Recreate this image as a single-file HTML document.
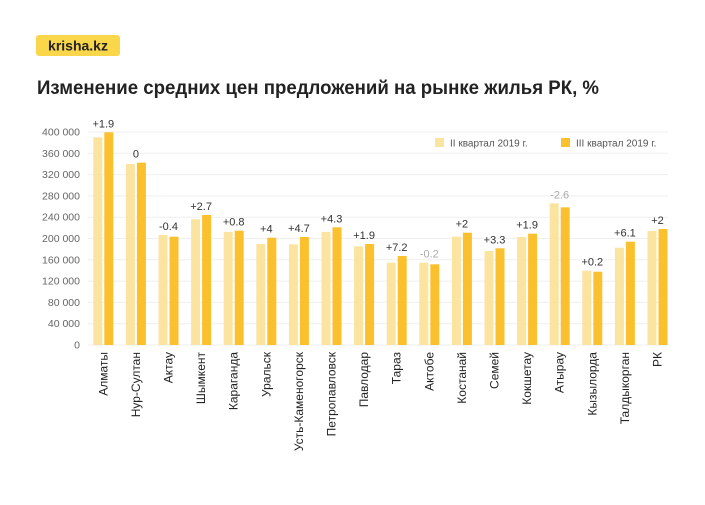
<!DOCTYPE html>
<html><head><meta charset="utf-8"><style>
body{margin:0;background:#fff;}
svg{display:block;font-family:"Liberation Sans","DejaVu Sans",sans-serif;}
</style></head><body>
<svg width="705" height="505" xmlns="http://www.w3.org/2000/svg">
<rect x="36" y="35" width="84" height="21" rx="3" fill="#f9d64a"/>
<text x="78" y="50.5" text-anchor="middle" font-size="14" font-weight="bold" fill="#222">krisha.kz</text>
<text x="37" y="94" font-size="19" font-weight="bold" fill="#222" textLength="562" lengthAdjust="spacingAndGlyphs">Изменение средних цен предложений на рынке жилья РК, %</text>
<g id="grid" stroke="#efefef" stroke-width="1"></g>
<g id="yl" font-size="10.5" fill="#666" text-anchor="end"></g>
<rect x="435" y="138" width="9" height="9" fill="#fbe3a0"/>
<text x="450" y="146.5" font-size="10" fill="#555">II квартал 2019 г.</text>
<rect x="561" y="138" width="9" height="9" fill="#fbc02d"/>
<text x="576" y="146.5" font-size="10" fill="#555">III квартал 2019 г.</text>
<g id="bars"></g>
</svg>
<script>
var NS="http://www.w3.org/2000/svg";
function el(t,a,p,txt){var e=document.createElementNS(NS,t);for(var k in a)e.setAttribute(k,a[k]);if(txt!=null)e.textContent=txt;document.getElementById(p).appendChild(e);return e;}
for(var i=0;i<=10;i++){var y=345-i*21.3;el('line',{x1:88,x2:668,y1:y,y2:y},'grid');el('text',{x:80,y:y+3.5},'yl',i==0?'0':(i*40)+' 000');}
var d=[["Алматы",137.3,132.3,"+1.9",0],["Нур-Султан",164,162.7,"0",0],["Актау",235,236.7,"-0.4",0],["Шымкент",219.3,215,"+2.7",0],["Караганда",232,230.7,"+0.8",0],["Уральск",244,237.7,"+4",0],["Усть-Каменогорск",244.3,237,"+4.7",0],["Петропавловск",232,227.3,"+4.3",0],["Павлодар",246.3,244,"+1.9",0],["Тараз",262.7,256,"+7.2",0],["Актобе",262.7,264.3,"-0.2",1],["Костанай",236.7,232.7,"+2",0],["Семей",251,248.3,"+3.3",0],["Кокшетау",237,233.7,"+1.9",0],["Атырау",203.3,207.3,"-2.6",1],["Кызылорда",270.7,271.7,"+0.2",0],["Талдыкорган",247.7,241.7,"+6.1",0],["РК",231,229,"+2",0]];
d.forEach(function(r,i){var x=93.3+i*32.6;var t1=r[1],t2=r[2];
el('rect',{x:x,y:t1,width:9,height:345-t1,fill:'#fbe3a0'},'bars');
el('rect',{x:x+11,y:t2,width:9,height:345-t2,fill:'#fbc02d'},'bars');
var top=Math.min(t1,t2);
el('text',{x:x+10,y:top-5,'text-anchor':'middle','font-size':'11',fill:r[4]?'#aaa':'#333'},'bars',r[3]);
var cx=x+10+4;
el('text',{x:0,y:0,'text-anchor':'end','font-size':'12',fill:'#222',transform:'translate('+cx+',352) rotate(-90)'},'bars',r[0]);
});
</script>
</body></html>
